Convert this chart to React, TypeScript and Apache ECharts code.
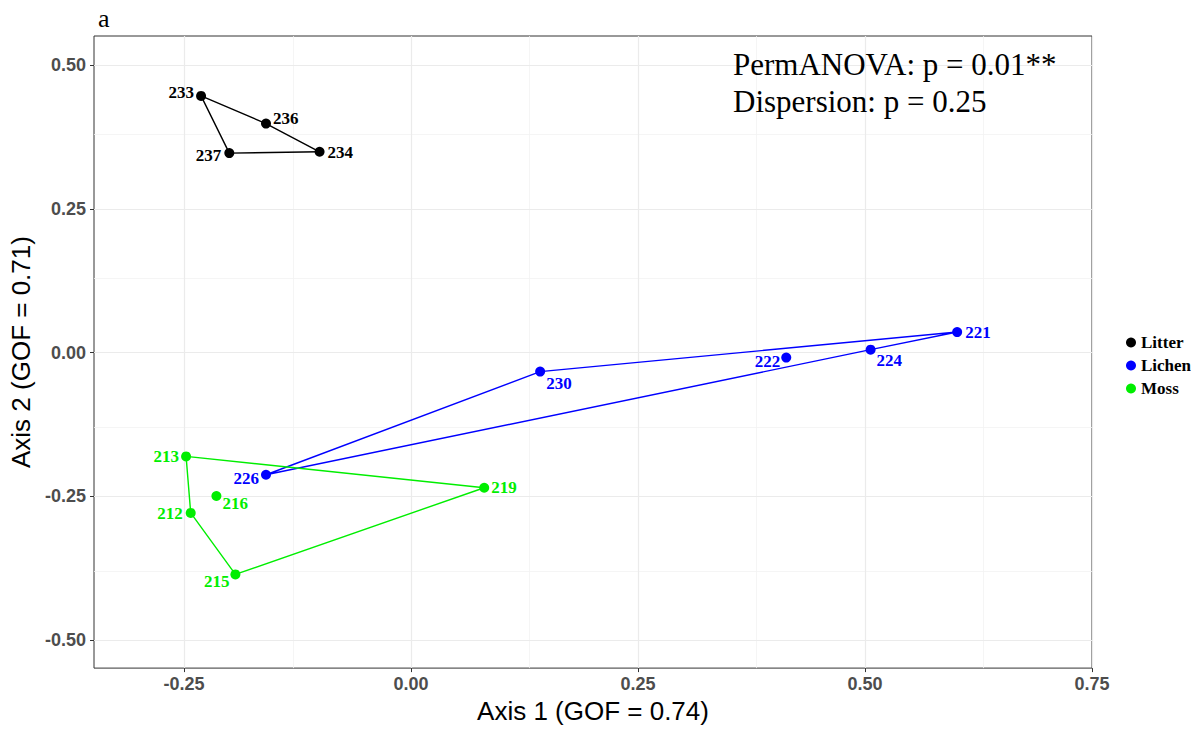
import React, { useEffect, useRef } from "react";
import * as echarts from "echarts";

// ---- data ----
const litterIds = ["233", "236", "234", "237"];
const litterX = [-0.2311, -0.1596, -0.1006, -0.2];
const litterY = [0.4467, 0.3986, 0.3495, 0.3472];
const litterHull = ["233", "236", "234", "237", "233"];

const lichenIds = ["221", "222", "224", "230", "226"];
const lichenX = [0.6015, 0.4133, 0.5062, 0.1423, -0.1596];
const lichenY = [0.0358, -0.0087, 0.0052, -0.033, -0.2125];
const lichenHull = ["226", "230", "221", "224", "226"];

const mossIds = ["213", "216", "212", "215", "219"];
const mossX = [-0.2476, -0.2142, -0.2425, -0.1933, 0.0807];
const mossY = [-0.1806, -0.2495, -0.279, -0.386, -0.2351];
const mossHull = ["213", "219", "215", "212", "213"];

const xTicks = [-0.25, 0, 0.25, 0.5, 0.75];
const yTicks = [-0.5, -0.25, 0, 0.25, 0.5];
const xMinor = [-0.125, 0.125, 0.375, 0.625];
const yMinor = [-0.375, -0.125, 0.125, 0.375];

const groupNames = ["Litter", "Lichen", "Moss"];
const xTitle = "Axis 1 (GOF = 0.74)";
const yTitle = "Axis 2 (GOF = 0.71)";
const annot1 = "PermANOVA: p = 0.01**";
const annot2 = "Dispersion: p = 0.25";
const panelTag = "a";

// ---- styling (label placement per point) ----
const labelPlace: Record<string, { position: string; offset: number[]; distance: number }> = {
  "233": { position: "left", offset: [0, -3], distance: 2 },
  "236": { position: "right", offset: [0, -5], distance: 2 },
  "237": { position: "left", offset: [0, 2], distance: 3 },
  "234": { position: "right", offset: [0, 1], distance: 3 },
  "221": { position: "right", offset: [0, 0], distance: 3 },
  "222": { position: "left", offset: [0, 4], distance: 1 },
  "224": { position: "right", offset: [0, 11], distance: 1 },
  "230": { position: "right", offset: [0, 12], distance: 1 },
  "226": { position: "left", offset: [0, 4], distance: 2 },
  "213": { position: "left", offset: [0, 0], distance: 2 },
  "216": { position: "right", offset: [0, 8], distance: 1 },
  "212": { position: "left", offset: [0, 1], distance: 3 },
  "215": { position: "left", offset: [0, 7], distance: 1 },
  "219": { position: "right", offset: [0, 0], distance: 2 },
};

const colors = ["#000000", "#0000ff", "#00ee00"];
const SERIF = "'Liberation Serif', 'Times New Roman', serif";
const SANS = "'Liberation Sans', Arial, sans-serif";

export default function App() {
  const ref = useRef<HTMLDivElement>(null);
  useEffect(() => {
    if (!ref.current) return;
    const chart = echarts.init(ref.current, undefined, { renderer: "svg" });

    const groups = [
      { ids: litterIds, xs: litterX, ys: litterY, hull: litterHull },
      { ids: lichenIds, xs: lichenX, ys: lichenY, hull: lichenHull },
      { ids: mossIds, xs: mossX, ys: mossY, hull: mossHull },
    ];

    const series: any[] = [];
    const majorStyle = { color: "#ebebeb", width: 1.2, type: "solid" };
    const minorStyle = { color: "#f2f2f2", width: 0.8, type: "solid" };
    series.push({
      type: "scatter",
      name: "grid",
      data: [],
      z: 0,
      silent: true,
      markLine: {
        silent: true,
        symbol: "none",
        z: 0,
        label: { show: false },
        animation: false,
        data: [
          ...xMinor.map((v) => ({ xAxis: v, lineStyle: minorStyle })),
          ...yMinor.map((v) => ({ yAxis: v, lineStyle: minorStyle })),
          ...xTicks.map((v) => ({ xAxis: v, lineStyle: majorStyle })),
          ...yTicks.map((v) => ({ yAxis: v, lineStyle: majorStyle })),
        ],
      },
    });

    groups.forEach((g, gi) => {
      const idx = (id: string) => g.ids.indexOf(id);
      series.push({
        type: "line",
        name: groupNames[gi] + " hull",
        data: g.hull.map((id) => [g.xs[idx(id)], g.ys[idx(id)]]),
        symbol: "none",
        silent: true,
        z: 2,
        lineStyle: { color: colors[gi], width: 1.4 },
      });
    });
    groups.forEach((g, gi) => {
      series.push({
        type: "scatter",
        name: groupNames[gi],
        symbol: "circle",
        symbolSize: 10,
        z: 3,
        itemStyle: { color: colors[gi], opacity: 1 },
        label: {
          show: true,
          formatter: "{b}",
          color: colors[gi],
          fontFamily: SERIF,
          fontWeight: "bold",
          fontSize: 17,
        },
        data: g.ids.map((id, i) => ({
          name: id,
          value: [g.xs[i], g.ys[i]],
          label: labelPlace[id],
        })),
      });
    });

    chart.setOption({
      animation: false,
      grid: {
        left: 94,
        right: 99,
        top: 36,
        bottom: 60,
        show: true,
        borderColor: "#333333",
        borderWidth: 1,
      },
      legend: {
        data: groupNames,
        orient: "vertical",
        left: 1121,
        top: 329,
        icon: "circle",
        itemWidth: 10,
        itemHeight: 10,
        itemGap: 6,
        textStyle: {
          fontFamily: SERIF,
          fontWeight: "bold",
          fontSize: 17,
          lineHeight: 17,
          color: "#000",
        },
        selectedMode: false,
      },
      xAxis: {
        type: "value",
        min: -0.349,
        max: 0.75,
        name: xTitle,
        nameLocation: "middle",
        nameGap: 27,
        nameTextStyle: { fontFamily: SANS, fontSize: 26, color: "#000" },
        axisLine: { show: false, onZero: false },
        splitLine: { show: false },
        axisTick: {
          show: true,
          length: 4,
          lineStyle: { color: "#333333" },
          customValues: xTicks,
        },
        axisLabel: {
          customValues: xTicks,
          formatter: (v: number) => v.toFixed(2),
          fontFamily: SANS,
          fontWeight: "bold",
          fontSize: 18,
          color: "#4d4d4d",
          margin: 7,
        },
      },
      yAxis: {
        type: "value",
        min: -0.549,
        max: 0.551,
        name: yTitle,
        nameLocation: "middle",
        nameGap: 59,
        nameTextStyle: { fontFamily: SANS, fontSize: 26, color: "#000" },
        axisLine: { show: false, onZero: false },
        splitLine: { show: false },
        axisTick: {
          show: true,
          length: 4,
          lineStyle: { color: "#333333" },
          customValues: yTicks,
        },
        axisLabel: {
          customValues: yTicks,
          formatter: (v: number) => v.toFixed(2),
          fontFamily: SANS,
          fontWeight: "bold",
          fontSize: 18,
          color: "#4d4d4d",
          margin: 8,
        },
      },
      graphic: [
        {
          type: "text",
          left: 98,
          top: 5,
          z: 100,
          style: { text: panelTag, font: `26px ${SERIF}`, fill: "#000" },
        },
        {
          type: "text",
          left: 733,
          top: 49,
          z: 100,
          style: { text: annot1, font: `31px ${SERIF}`, fill: "#000" },
        },
        {
          type: "text",
          left: 733,
          top: 86,
          z: 100,
          style: { text: annot2, font: `31px ${SERIF}`, fill: "#000" },
        },
      ],
      series,
    });
    return () => chart.dispose();
  }, []);
  return <div ref={ref} style={{ width: 1191, height: 729, position: "absolute", left: 0, top: 0 }} />;
}
